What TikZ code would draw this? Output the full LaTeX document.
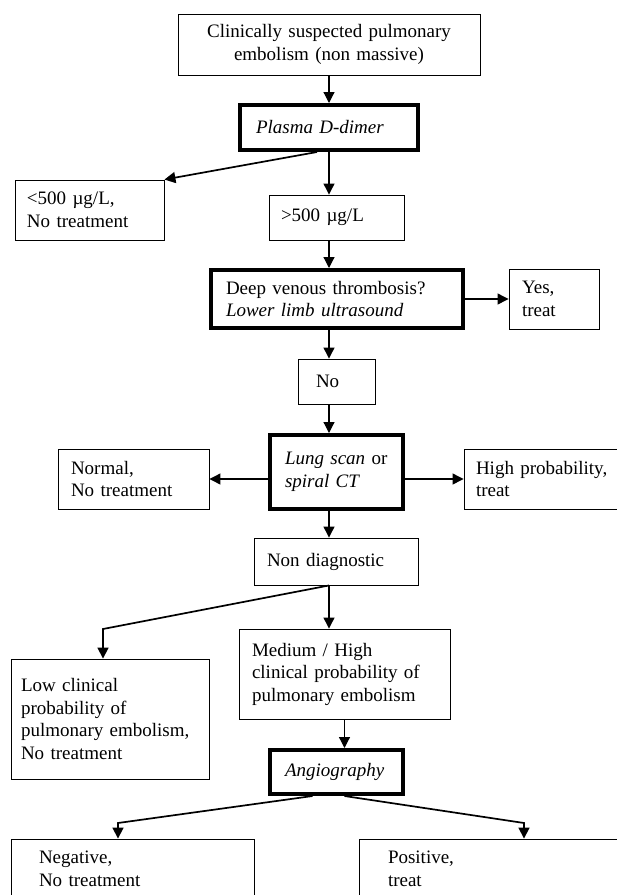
\documentclass[tikz,border=0pt]{standalone}
\usepackage{fontspec}
\setmainfont{Liberation Serif}
\usetikzlibrary{positioning,arrows.meta}

\begin{document}
\begin{tikzpicture}
  [x=1pt,y=-1pt,
   box/.style={draw,rectangle,align=left,inner ysep=2pt,line width=0.9pt,
     font=\fontsize{19}{22.5}\selectfont},
   thickbox/.style={box,line width=4pt},
   arr/.style={line width=1.2pt,-{Triangle[length=11pt,width=11pt]}},
   slant/.style={arr,line width=1.7pt}]
  \useasboundingbox (0,0) rectangle (617,895);
  \clip (0,0) rectangle (617,895);

  \coordinate (axis) at (329,0);
  \coordinate (lowbend) at (103,629);
  \coordinate (negbend) at (118,823);
  \coordinate (posbend) at (524,823);

  \node[box,align=center,inner xsep=16pt,text width=270pt,minimum height=61pt] (susp) at (329,44.5)
    {Clinically suspected pulmonary\\embolism (non massive)};
  \node[thickbox,inner xsep=16pt,text width=146pt,minimum height=45pt] (dimer) at (329,127.5)
    {\textit{Plasma D-dimer}};
  \node[box,inner xsep=12pt,text width=125pt,minimum height=60pt] (low500) at (89.5,210)
    {<500 µg/L,\\No treatment};
  \node[box,inner xsep=12pt,text width=111pt,minimum height=45pt] (high500) at (336.5,217.5)
    {>500 µg/L};
  \node[thickbox,inner xsep=15pt,text width=222pt,minimum height=58pt] (dvt) at (337,299)
    {Deep venous thrombosis?\\\textit{Lower limb ultrasound}};
  \node[box,inner xsep=13pt,text width=64pt,minimum height=60pt] (yes) at (554,299)
    {Yes,\\treat};
  \node[box,inner xsep=18pt,text width=41pt,minimum height=45pt] (no) at (336.5,381.5)
    {No};
  \node[thickbox,inner xsep=15pt,text width=103pt,minimum height=74pt] (lung) at (336.5,472)
    {\textit{Lung scan} or\\\textit{spiral CT}};
  \node[box,inner xsep=13pt,text width=125pt,minimum height=60pt] (normal) at (133.5,479)
    {Normal,\\No treatment};
  \node[box,inner xsep=12pt,text width=152pt,minimum height=60pt] (highprob) at (552,479)
    {High probability,\\treat};
  \node[box,inner xsep=13pt,text width=138pt,minimum height=47pt] (nondiag) at (336,561.5)
    {Non diagnostic};
  \node[box,inner xsep=13pt,text width=185pt,minimum height=90pt] (medium) at (344.5,674)
    {Medium / High\\clinical probability of\\pulmonary embolism};
  \node[box,inner xsep=10pt,text width=178pt,minimum height=120pt] (lowclin) at (110,719)
    {Low clinical\\probability of\\pulmonary embolism,\\No treatment};
  \node[thickbox,inner xsep=15pt,text width=103pt,minimum height=44pt] (angio) at (336.5,772)
    {\textit{Angiography}};
  \node[box,inner xsep=28pt,text width=187pt,minimum height=60pt] (neg) at (132.5,869)
    {Negative,\\No treatment};
  \node[box,inner xsep=29pt,text width=222pt,minimum height=60pt] (pos) at (499,869)
    {Positive,\\treat};

  % main line
  \draw[arr] (susp) -- (dimer);
  \draw[arr] (dimer.south -| axis) -- (high500.north -| axis);
  \draw[arr] (high500.south -| axis) -- (dvt.north -| axis);
  \draw[arr] (dvt.south -| axis) -- (no.north -| axis);
  \draw[arr] (no.south -| axis) -- (lung.north -| axis);
  \draw[arr] (lung.south -| axis) -- (nondiag.north -| axis);
  \draw[arr] (nondiag.south -| axis) -- (medium.north -| axis);
  \draw[arr] (medium.south) -- (medium.south |- angio.north);

  % side branches
  \draw[slant] ([xshift=-12pt]dimer.south) -- (low500.north east);
  \draw[arr] (dvt) -- (yes);
  \draw[arr] (normal.east -| lung.west) -- (normal.east);
  \draw[arr] (highprob.west -| lung.east) -- (highprob.west);
  \draw[slant] (nondiag.south -| axis) -- (lowbend) -- (lowclin.north -| lowbend);
  \draw[slant] ([xshift=-24pt]angio.south) -- (negbend) -- (neg.north -| negbend);
  \draw[slant] ([xshift=8pt]angio.south) -- (posbend) -- (pos.north -| posbend);
\end{tikzpicture}
\end{document}
